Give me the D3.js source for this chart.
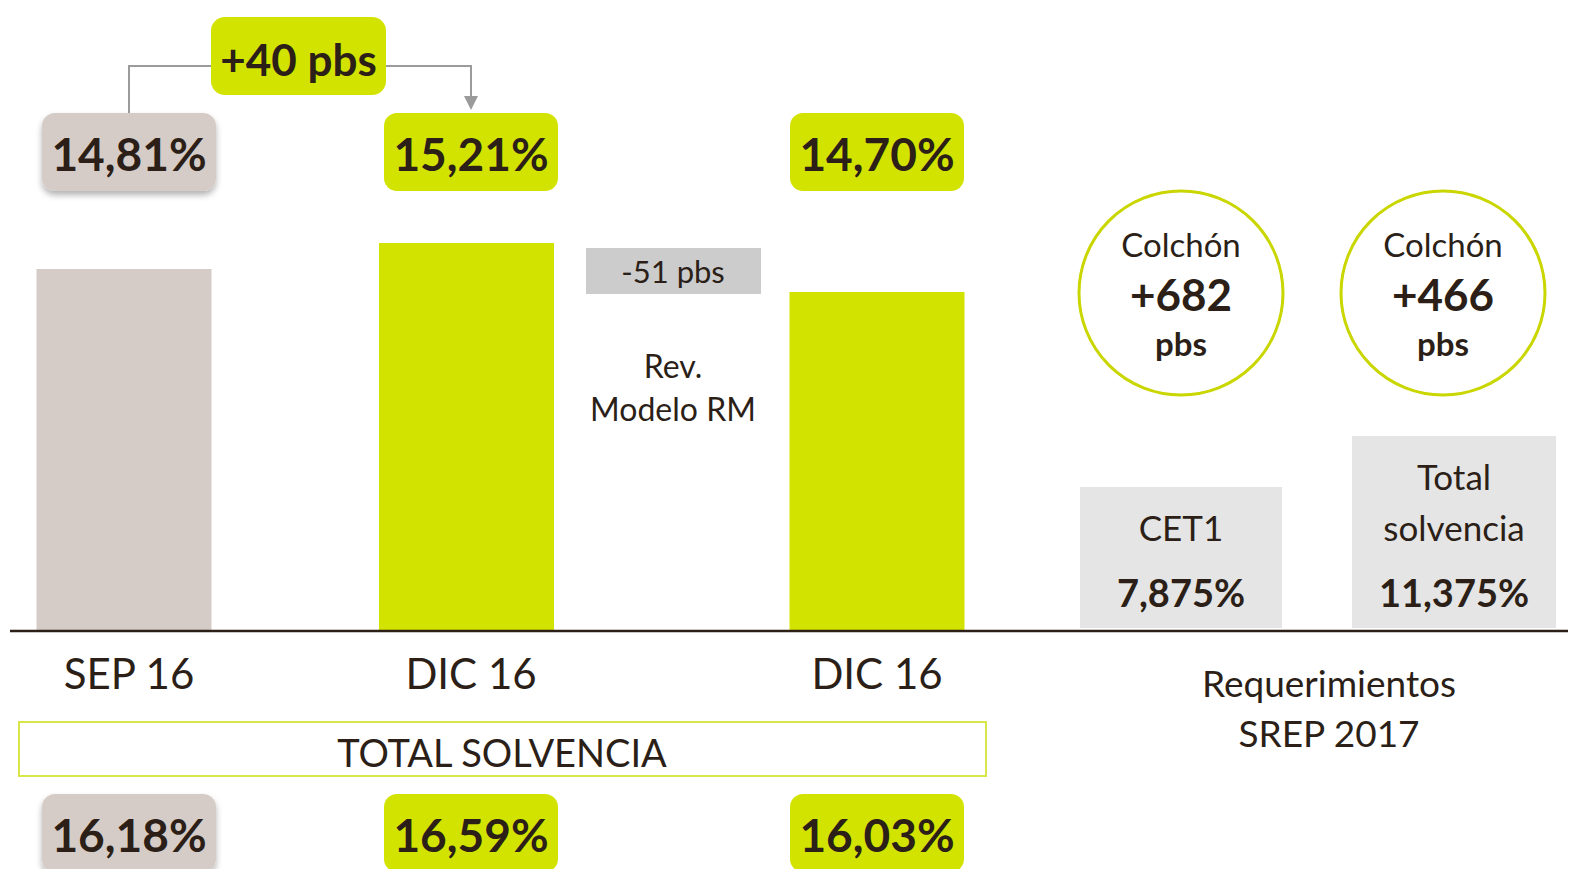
<!DOCTYPE html>
<html>
<head>
<meta charset="utf-8">
<script src="https://cdn.jsdelivr.net/npm/d3@7"></script>
<style>
  html, body { margin: 0; padding: 0; background: #ffffff; }
  svg { display: block; font-family: Lato, "Open Sans", sans-serif; }
</style>
</head>
<body>
<svg id="chart" width="1572" height="869"></svg>
<script>
// Capital ratios per period (%)
const periods = ["SEP 16", "DIC 16", "DIC 16"];
const cet1Ratios = [14.81, 15.21, 14.70];
const totalSolvency = [16.18, 16.59, 16.03];
const changeLabels = ["+40 pbs", "-51 pbs"];
const changeNote = ["Rev.", "Modelo RM"];

// SREP 2017 requirements (%) and the buffer above each one (pbs)
const requirementNames = [["CET1"], ["Total", "solvencia"]];
const requirementValues = [7.875, 11.375];
const bufferPbs = [682, 466];
const captionLines = ["Requerimientos", "SREP 2017"];

const pct = (v, d) => v.toFixed(d).replace(".", ",") + "%";

const LIME = "#d3e300";
const BEIGE = "#d6ccc7";
const INK = "#2b1f17";
const barFill = [BEIGE, LIME, LIME];

const svg = d3.select("#chart");
const baseY = 630;

// drop shadow for the beige value boxes
const defs = svg.append("defs");
const shadow = defs.append("filter").attr("id", "shadow")
  .attr("x", "-20%").attr("y", "-20%").attr("width", "140%").attr("height", "150%");
shadow.append("feDropShadow").attr("dx", 0).attr("dy", 4).attr("stdDeviation", 3)
  .attr("flood-color", "#000").attr("flood-opacity", 0.3);

// column centres: bars and their labels/badges
const x = d3.scaleLinear().domain([0, 1, 2]).range([124, 466.5, 877]);
const xl = d3.scaleLinear().domain([0, 1, 2]).range([129, 471, 877]);
const barW = 175;

// bar heights follow the published (non-uniform) visual scale
const ySorted = cet1Ratios.map((v, i) => i).sort((a, b) => cet1Ratios[a] - cet1Ratios[b]);
const y = d3.scaleLinear()
  .domain(ySorted.map(i => cet1Ratios[i]))
  .range([292, 269, 243]);

// bars
svg.append("g").selectAll("rect").data(cet1Ratios).join("rect")
  .attr("x", (d, i) => x(i) - barW / 2)
  .attr("y", d => y(d))
  .attr("width", barW)
  .attr("height", d => baseY - y(d))
  .attr("fill", (d, i) => barFill[i]);

// baseline
svg.append("line").attr("x1", 10).attr("x2", 1568).attr("y1", baseY + 1).attr("y2", baseY + 1)
  .attr("stroke", INK).attr("stroke-width", 2.5);

// value badges (top: CET1, bottom: total solvency)
function badges(values, top) {
  const g = svg.append("g");
  const b = g.selectAll("g").data(values).join("g")
    .attr("transform", (d, i) => `translate(${xl(i)},${top})`);
  b.append("rect")
    .attr("x", -87).attr("y", 0).attr("width", 174).attr("height", 78)
    .attr("rx", 13)
    .attr("fill", (d, i) => barFill[i])
    .attr("filter", (d, i) => i === 0 ? "url(#shadow)" : null);
  b.append("text")
    .attr("y", 58).attr("text-anchor", "middle")
    .attr("font-size", 46).attr("font-weight", 700).attr("fill", INK)
    .text(d => pct(d, 2));
}
badges(cet1Ratios, 113);
badges(totalSolvency, 794);

// +40 pbs connector
const conn = svg.append("g");
conn.append("path")
  .attr("d", `M${xl(0)},113 V66 H211`)
  .attr("fill", "none").attr("stroke", "#9b9b9b").attr("stroke-width", 2);
conn.append("path")
  .attr("d", `M386,66 H${xl(1)} V98`)
  .attr("fill", "none").attr("stroke", "#9b9b9b").attr("stroke-width", 2);
conn.append("path")
  .attr("d", `M${xl(1) - 7},96 L${xl(1) + 7},96 L${xl(1)},110 Z`)
  .attr("fill", "#9b9b9b");
conn.append("rect").attr("x", 211).attr("y", 17).attr("width", 175).attr("height", 78)
  .attr("rx", 14).attr("fill", LIME);
conn.append("text").attr("x", 298.5).attr("y", 76).attr("text-anchor", "middle")
  .attr("font-size", 44).attr("font-weight", 700).attr("fill", INK)
  .text(changeLabels[0]);

// -51 pbs model revision
const rm = svg.append("g").attr("transform", "translate(673,0)");
rm.append("rect").attr("x", -87).attr("y", 248).attr("width", 175).attr("height", 46)
  .attr("fill", "#cccccc");
rm.append("text").attr("y", 283).attr("text-anchor", "middle")
  .attr("font-size", 31).attr("fill", INK).text(changeLabels[1]);
rm.selectAll("text.note").data(changeNote).join("text").attr("class", "note")
  .attr("y", (d, i) => 378 + i * 43).attr("text-anchor", "middle")
  .attr("font-size", 32).attr("fill", INK).text(d => d);

// period labels
svg.append("g").selectAll("text").data(periods).join("text")
  .attr("x", (d, i) => xl(i)).attr("y", 689).attr("text-anchor", "middle")
  .attr("font-size", 42).attr("fill", INK).text(d => d);

// TOTAL SOLVENCIA band
svg.append("rect").attr("x", 19).attr("y", 722).attr("width", 967).attr("height", 54)
  .attr("fill", "none").attr("stroke", "#d9e64a").attr("stroke-width", 2);
svg.append("text").attr("x", 502).attr("y", 767).attr("text-anchor", "middle")
  .attr("font-size", 38).attr("fill", INK).text("TOTAL SOLVENCIA");

// SREP requirement blocks
const rx = d3.scaleLinear().domain([0, 1]).range([1181, 1454]);
const reqW = [202, 204];
const ry = d3.scaleLinear().domain(requirementValues).range([487, 436]);
const req = svg.append("g").selectAll("g").data(requirementValues).join("g")
  .attr("transform", (d, i) => `translate(${rx(i)},0)`);
req.append("rect")
  .attr("x", (d, i) => -reqW[i] / 2).attr("y", d => ry(d))
  .attr("width", (d, i) => reqW[i]).attr("height", d => baseY - 2 - ry(d))
  .attr("fill", "#e5e5e5");
req.each(function (d, i) {
  const names = requirementNames[i];
  d3.select(this).selectAll("text.name").data(names).join("text").attr("class", "name")
    .attr("y", (n, j) => 541 - (names.length - 1 - j) * 51).attr("text-anchor", "middle")
    .attr("font-size", 35).attr("fill", INK).text(n => n);
});
req.append("text").attr("y", 607).attr("text-anchor", "middle")
  .attr("font-size", 38).attr("font-weight", 700).attr("fill", INK)
  .text(d => pct(d, 3));

// buffer circles (distance of DIC 16 ratios to each requirement)
const cx = d3.scaleLinear().domain([0, 1]).range([1181, 1443]);
const buf = svg.append("g").selectAll("g").data(bufferPbs).join("g")
  .attr("transform", (d, i) => `translate(${cx(i)},293)`);
buf.append("circle").attr("r", 102).attr("fill", "#fff")
  .attr("stroke", "#c9d600").attr("stroke-width", 3);
buf.append("text").attr("y", -36).attr("text-anchor", "middle")
  .attr("font-size", 33).attr("fill", INK).text("Colchón");
buf.append("text").attr("y", 18).attr("text-anchor", "middle")
  .attr("font-size", 44).attr("font-weight", 700).attr("fill", INK).text(d => "+" + d);
buf.append("text").attr("y", 63).attr("text-anchor", "middle")
  .attr("font-size", 33).attr("font-weight", 700).attr("fill", INK).text("pbs");

// requirements caption
svg.append("g").selectAll("text").data(captionLines).join("text")
  .attr("x", 1329).attr("y", (d, i) => 697 + i * 50).attr("text-anchor", "middle")
  .attr("font-size", 37).attr("fill", INK).text(d => d);
</script>
</body>
</html>
